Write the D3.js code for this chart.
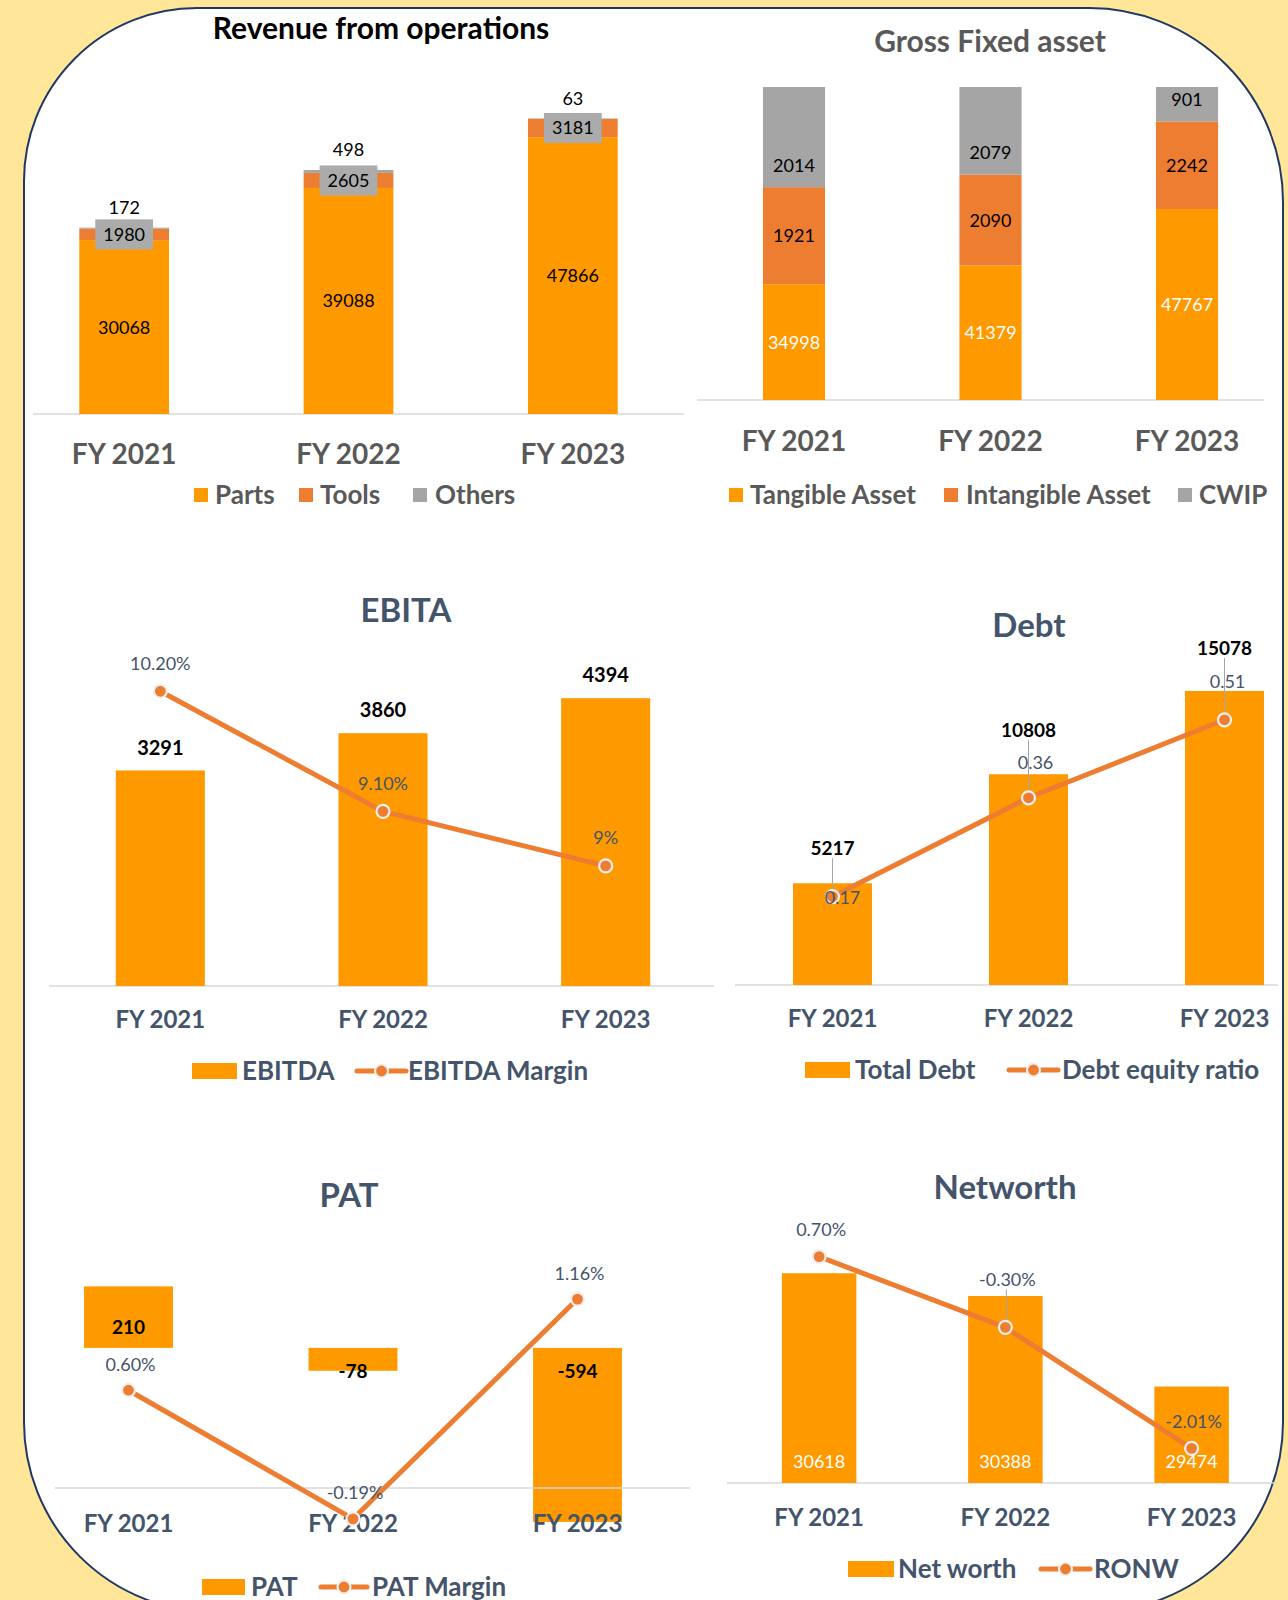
<!DOCTYPE html>
<html>
<head>
<meta charset="utf-8">
<script src="https://cdn.jsdelivr.net/npm/d3@7"></script>
<style>
  body { margin: 0; background: #FFE699; }
  svg { display: block; font-family: Lato, 'Open Sans', sans-serif; }
</style>
</head>
<body>
<div class="board"></div>
<script>
let years = ['FY 2021', 'FY 2022', 'FY 2023'];

// Revenue from operations
let revParts = [30068, 39088, 47866];
let revTools = [1980, 2605, 3181];
let revOthers = [172, 498, 63];

// Gross fixed asset: the labels carry the figures, the bars are drawn as a 100% stack
// with the share of bar height
let gfaTangible = [34998, 41379, 47767];
let gfaIntangible = [1921, 2090, 2242];
let gfaCwip = [2014, 2079, 901];
let gfaTangibleShare = [37, 43, 61];
let gfaIntangibleShare = [31, 29, 28];
let gfaCwipShare = [32, 28, 11];

// EBITA
let ebitda = [3291, 3860, 4394];
let ebitdaMargin = [10.2, 9.1, 8.6];
let ebitdaMarginLabels = ['10.20%', '9.10%', '9%'];

// Debt
let totalDebt = [5217, 10808, 15078];
let debtEquity = [0.17, 0.36, 0.51];

// PAT
let pat = [210, -78, -594];
let patMargin = [0.60, -0.19, 1.16];

// Networth
let netWorth = [30618, 30388, 29474];
let ronw = [0.70, -0.30, -2.01];

let orange = '#FF9900';
let darkOrange = '#ED7D31';
let grey = '#A5A5A5';
let slate = '#44546A';
let dimGrey = '#595959';
// plain hyphen for negatives, like the sheet
let pct = d3.formatLocale({decimal: '.', thousands: ',', grouping: [3], currency: ['', ''], minus: '-'}).format('.2f');

let svg = d3.select('div.board').append('svg')
  .attr('width', 1288)
  .attr('height', 1600);

svg.append('rect')
  .attr('width', 1288).attr('height', 1600)
  .attr('fill', '#FFE699');

// white board with big rounded corners
let bx0 = 24, by0 = 8, bx1 = 1283, by1 = 1612;
let rTL = 173, rTR = 194, rBR = 190, rBL = 190;
svg.append('path')
  .attr('d', `M${bx0 + rTL},${by0} H${bx1 - rTR} A${rTR},${rTR} 0 0 1 ${bx1},${by0 + rTR}
    V${by1 - rBR} A${rBR},${rBR} 0 0 1 ${bx1 - rBR},${by1} H${bx0 + rBL}
    A${rBL},${rBL} 0 0 1 ${bx0},${by1 - rBL} V${by0 + rTL} A${rTL},${rTL} 0 0 1 ${bx0 + rTL},${by0} Z`)
  .attr('fill', '#fff')
  .attr('stroke', '#1F3864')
  .attr('stroke-width', 2);

/////////////////////////////////////////////////////////////////////////////
function title(text, cx, cy, size, color) {
  svg.append('text')
    .attr('x', cx).attr('y', cy).attr('dy', '0.36em')
    .attr('text-anchor', 'middle')
    .attr('font-size', size)
    .attr('font-weight', 'bold')
    .attr('fill', color)
    .text(text);
}

function axisLine(x1, x2, y) {
  svg.append('line')
    .attr('x1', x1).attr('x2', x2)
    .attr('y1', y).attr('y2', y)
    .attr('stroke', '#D9D9D9')
    .attr('stroke-width', 1.5);
}

function xLabels(x, y, pad, size, color) {
  let g = svg.append('g')
    .attr('transform', `translate(0,${y})`)
    .call(d3.axisBottom(x).tickSize(0).tickPadding(pad));
  g.select('.domain').remove();
  g.attr('font-family', null).attr('font-size', size);
  g.selectAll('text')
    .attr('font-weight', 'bold')
    .attr('fill', color);
}

function label(text, x, y, size, opts) {
  opts = opts || {};
  return svg.append('text')
    .attr('x', x).attr('y', y).attr('dy', '0.36em')
    .attr('text-anchor', 'middle')
    .attr('font-size', size)
    .attr('font-weight', opts.bold ? 'bold' : 'normal')
    .attr('fill', opts.color || '#000')
    .text(text);
}

function simpleBars(values, x, y, base, frac) {
  let w = x.bandwidth() * frac;
  svg.append('g').selectAll('rect')
    .data(values)
    .enter().append('rect')
    .attr('x', (d, i) => x(years[i]) + (x.bandwidth() - w) / 2)
    .attr('y', d => Math.min(y(d), y(base)))
    .attr('width', w)
    .attr('height', d => Math.abs(y(d) - y(base)))
    .attr('fill', orange);
}

function points(values, x, y2) {
  return values.map((v, i) => [x(years[i]) + x.bandwidth() / 2, y2(v)]);
}

function marginLine(pts) {
  svg.append('path')
    .attr('d', d3.line()(pts))
    .attr('fill', 'none')
    .attr('stroke', darkOrange)
    .attr('stroke-width', 5)
    .attr('stroke-linejoin', 'round');
  svg.append('g').selectAll('circle')
    .data(pts)
    .enter().append('circle')
    .attr('cx', d => d[0]).attr('cy', d => d[1])
    .attr('r', 6.5)
    .attr('fill', darkOrange)
    .attr('stroke', '#EFEFEF')
    .attr('stroke-width', 2.2);
}

function leader(x, yA, yB) {
  svg.append('line')
    .attr('x1', x).attr('x2', x)
    .attr('y1', yA).attr('y2', yB)
    .attr('stroke', '#A6A6A6')
    .attr('stroke-width', 1);
}

function squareLegend(items, cy, size, color) {
  items.forEach(it => {
    svg.append('rect')
      .attr('x', it.x).attr('y', cy - 7)
      .attr('width', 14).attr('height', 14)
      .attr('fill', it.color);
    svg.append('text')
      .attr('x', it.tx).attr('y', cy).attr('dy', '0.36em')
      .attr('font-size', size).attr('font-weight', 'bold')
      .attr('fill', color)
      .text(it.name);
  });
}

function comboLegend(barName, lineName, cy, p) {
  svg.append('rect')
    .attr('x', p.rect[0]).attr('y', cy - 8)
    .attr('width', p.rect[1] - p.rect[0]).attr('height', 16)
    .attr('fill', orange);
  svg.append('text')
    .attr('x', p.t1).attr('y', cy).attr('dy', '0.36em')
    .attr('font-size', 26).attr('font-weight', 'bold')
    .attr('fill', slate).text(barName);
  svg.append('line')
    .attr('x1', p.line[0]).attr('x2', p.line[1])
    .attr('y1', cy).attr('y2', cy)
    .attr('stroke', darkOrange).attr('stroke-width', 5)
    .attr('stroke-linecap', 'round');
  svg.append('circle')
    .attr('cx', (p.line[0] + p.line[1]) / 2).attr('cy', cy)
    .attr('r', 6.5)
    .attr('fill', darkOrange)
    .attr('stroke', '#EFEFEF').attr('stroke-width', 2.2);
  svg.append('text')
    .attr('x', p.t2).attr('y', cy).attr('dy', '0.36em')
    .attr('font-size', 26).attr('font-weight', 'bold')
    .attr('fill', slate).text(lineName);
}

/////////////////////////////////////////////////////////////////////////////
// Revenue from operations
let revRows = years.map((yr, i) => ({year: yr, parts: revParts[i], tools: revTools[i], others: revOthers[i]}));
let revStack = d3.stack().keys(['parts', 'tools', 'others'])(revRows);
let revX = d3.scaleBand().domain(years).range([12, 685]);
let revY = d3.scaleLinear().domain([0, 60000]).range([414, 67]);
let revColors = {parts: orange, tools: darkOrange, others: grey};
let revW = revX.bandwidth() * 0.4;

title('Revenue from operations', 381, 28, 30, '#000');
axisLine(33, 684, revY(0));

revStack.forEach(layer => {
  svg.append('g').selectAll('rect')
    .data(layer)
    .enter().append('rect')
    .attr('x', d => revX(d.data.year) + (revX.bandwidth() - revW) / 2)
    .attr('y', d => revY(d[1]))
    .attr('width', revW)
    .attr('height', d => revY(d[0]) - revY(d[1]))
    .attr('fill', revColors[layer.key]);
});

revStack.forEach(layer => {
  layer.forEach(d => {
    let cx = revX(d.data.year) + revX.bandwidth() / 2;
    let v = d.data[layer.key];
    if (layer.key === 'parts') {
      label(v, cx, revY((d[0] + d[1]) / 2), 18);
    } else if (layer.key === 'tools') {
      let cy = revY((d[0] + d[1]) / 2);
      let box = svg.append('rect').attr('fill', '#ABABAB');
      let t = label(v, cx, cy, 18);
      let w = t.node().getComputedTextLength() + 16;
      box.attr('x', cx - w / 2).attr('y', cy - 15).attr('width', w).attr('height', 30);
    } else {
      label(v, cx, revY(d[1]) - 20, 18);
    }
  });
});

xLabels(revX, revY(0), 30, 28, dimGrey);
squareLegend([
  {name: 'Parts', color: orange, x: 194, tx: 215},
  {name: 'Tools', color: darkOrange, x: 299, tx: 320},
  {name: 'Others', color: grey, x: 413, tx: 435}
], 495, 26, dimGrey);

/////////////////////////////////////////////////////////////////////////////
// Gross Fixed asset
let gfaRows = years.map((yr, i) => ({
  year: yr,
  tangible: gfaTangibleShare[i], intangible: gfaIntangibleShare[i], cwip: gfaCwipShare[i]
}));
let gfaValues = {tangible: gfaTangible, intangible: gfaIntangible, cwip: gfaCwip};
let gfaStack = d3.stack().keys(['tangible', 'intangible', 'cwip'])(gfaRows);
let gfaX = d3.scaleBand().domain(years).range([695.75, 1285.25]);
let gfaY = d3.scaleLinear().domain([0, 100]).range([400, 87]);
let gfaColors = {tangible: orange, intangible: darkOrange, cwip: grey};
let gfaW = gfaX.bandwidth() * 0.316;

title('Gross Fixed asset', 990, 41, 30, dimGrey);
axisLine(697, 1264, gfaY(0));

gfaStack.forEach(layer => {
  svg.append('g').selectAll('rect')
    .data(layer)
    .enter().append('rect')
    .attr('x', d => gfaX(d.data.year) + (gfaX.bandwidth() - gfaW) / 2)
    .attr('y', d => gfaY(d[1]))
    .attr('width', gfaW)
    .attr('height', d => gfaY(d[0]) - gfaY(d[1]))
    .attr('fill', gfaColors[layer.key]);
});

gfaStack.forEach(layer => {
  layer.forEach((d, i) => {
    let cx = gfaX(d.data.year) + gfaX.bandwidth() / 2;
    let cy = layer.key === 'cwip' ? gfaY(d[0]) - 22 : gfaY((d[0] + d[1]) / 2);
    label(gfaValues[layer.key][i], cx, cy, 18, {color: layer.key === 'tangible' ? '#fff' : '#000'});
  });
});

xLabels(gfaX, gfaY(0), 31, 28, dimGrey);
squareLegend([
  {name: 'Tangible Asset', color: orange, x: 729, tx: 750},
  {name: 'Intangible Asset', color: darkOrange, x: 944, tx: 966},
  {name: 'CWIP', color: grey, x: 1178, tx: 1199}
], 495, 26, dimGrey);

/////////////////////////////////////////////////////////////////////////////
// EBITA
let ebX = d3.scaleBand().domain(years).range([49, 717]);
let ebY = d3.scaleLinear().domain([0, 5000]).range([986, 658.5]);
let ebY2 = d3.scaleLinear().domain([7.5, 10.5]).range([986, 658.5]);

title('EBITA', 406, 610, 33, slate);
axisLine(49, 714, ebY(0));
simpleBars(ebitda, ebX, ebY, 0, 0.4);
ebitda.forEach((v, i) => {
  label(v, ebX(years[i]) + ebX.bandwidth() / 2, ebY(v) - 23, 20, {bold: true});
});
xLabels(ebX, ebY(0), 25, 24, slate);
let ebPts = points(ebitdaMargin, ebX, ebY2);
marginLine(ebPts);
ebPts.forEach((p, i) => label(ebitdaMarginLabels[i], p[0], p[1] - 28, 18, {color: slate}));
comboLegend('EBITDA', 'EBITDA Margin', 1071, {rect: [192, 237], t1: 242, line: [357, 406], t2: 408});

/////////////////////////////////////////////////////////////////////////////
// Debt
let dbX = d3.scaleBand().domain(years).range([734.5, 1322.5]);
let dbY = d3.scaleLinear().domain([0, 16000]).range([985, 673]);
let dbY2 = d3.scaleLinear().domain([0, 0.6]).range([985, 673]);
let debtLabelDy = [-35, -44, -43];
let ratioLabelShift = [[10, 1], [7, -35], [3, -38]];

title('Debt', 1029, 625, 33, slate);
axisLine(735, 1278, dbY(0));
simpleBars(totalDebt, dbX, dbY, 0, 0.403);
xLabels(dbX, dbY(0), 25, 24, slate);
let dbPts = points(debtEquity, dbX, dbY2);
totalDebt.forEach((v, i) => {
  let cx = dbX(years[i]) + dbX.bandwidth() / 2;
  leader(cx, dbY(v) + debtLabelDy[i] + 10, dbPts[i][1] - 7);
});
marginLine(dbPts);
totalDebt.forEach((v, i) => {
  label(v, dbX(years[i]) + dbX.bandwidth() / 2, dbY(v) + debtLabelDy[i], 19, {bold: true});
});
dbPts.forEach((p, i) => {
  label(pct(debtEquity[i]), p[0] + ratioLabelShift[i][0], p[1] + ratioLabelShift[i][1], 18, {color: slate});
});
comboLegend('Total Debt', 'Debt equity ratio', 1070, {rect: [805, 850], t1: 855, line: [1009, 1058], t2: 1062});

/////////////////////////////////////////////////////////////////////////////
// PAT
let patX = d3.scaleBand().domain(years).range([16.25, 689.75]);
let patY = d3.scaleLinear().domain([-700, 300]).range([1553, 1260]);
let patY2 = d3.scaleLinear().domain([-0.4, 1.4]).range([1553, 1260]);

title('PAT', 349, 1195, 33, slate);
simpleBars(pat, patX, patY, 0, 0.396);
axisLine(55, 690, patY2(0));
pat.forEach((v, i) => {
  let cy = v >= 0 ? patY(0) - 21 : patY(0) + 23;
  label(v, patX(years[i]) + patX.bandwidth() / 2, cy, 19, {bold: true});
});
xLabels(patX, patY2(0), 27, 24, slate);
let patPts = points(patMargin, patX, patY2);
marginLine(patPts);
patPts.forEach((p, i) => label(pct(patMargin[i]) + '%', p[0] + 2, p[1] - 26, 18, {color: slate}));
comboLegend('PAT', 'PAT Margin', 1587, {rect: [202, 245], t1: 251, line: [321, 367], t2: 372});

/////////////////////////////////////////////////////////////////////////////
// Networth
let nwX = d3.scaleBand().domain(years).range([726, 1284.75]);
let nwY = d3.scaleLinear().domain([28500, 31000]).range([1483, 1235.4]);
let nwY2 = d3.scaleLinear().domain([-2.5, 1.0]).range([1483, 1235.4]);
let ronwLabelDy = [-27, -48, -27];

title('Networth', 1005, 1187, 33, slate);
axisLine(727, 1276, nwY(28500));
simpleBars(netWorth, nwX, nwY, 28500, 0.4);
netWorth.forEach((v, i) => {
  label(v, nwX(years[i]) + nwX.bandwidth() / 2, nwY(28500) - 21.5, 18, {color: '#fff'});
});
xLabels(nwX, nwY(28500), 26, 24, slate);
let nwPts = points(ronw, nwX, nwY2);
leader(nwPts[1][0] + 1, nwPts[1][1] + ronwLabelDy[1] + 10, nwPts[1][1] - 7);
marginLine(nwPts);
nwPts.forEach((p, i) => label(pct(ronw[i]) + '%', p[0] + 2, p[1] + ronwLabelDy[i], 18, {color: slate}));
comboLegend('Net worth', 'RONW', 1569, {rect: [848, 894], t1: 898, line: [1041, 1090], t2: 1094});
</script>
</body>
</html>
